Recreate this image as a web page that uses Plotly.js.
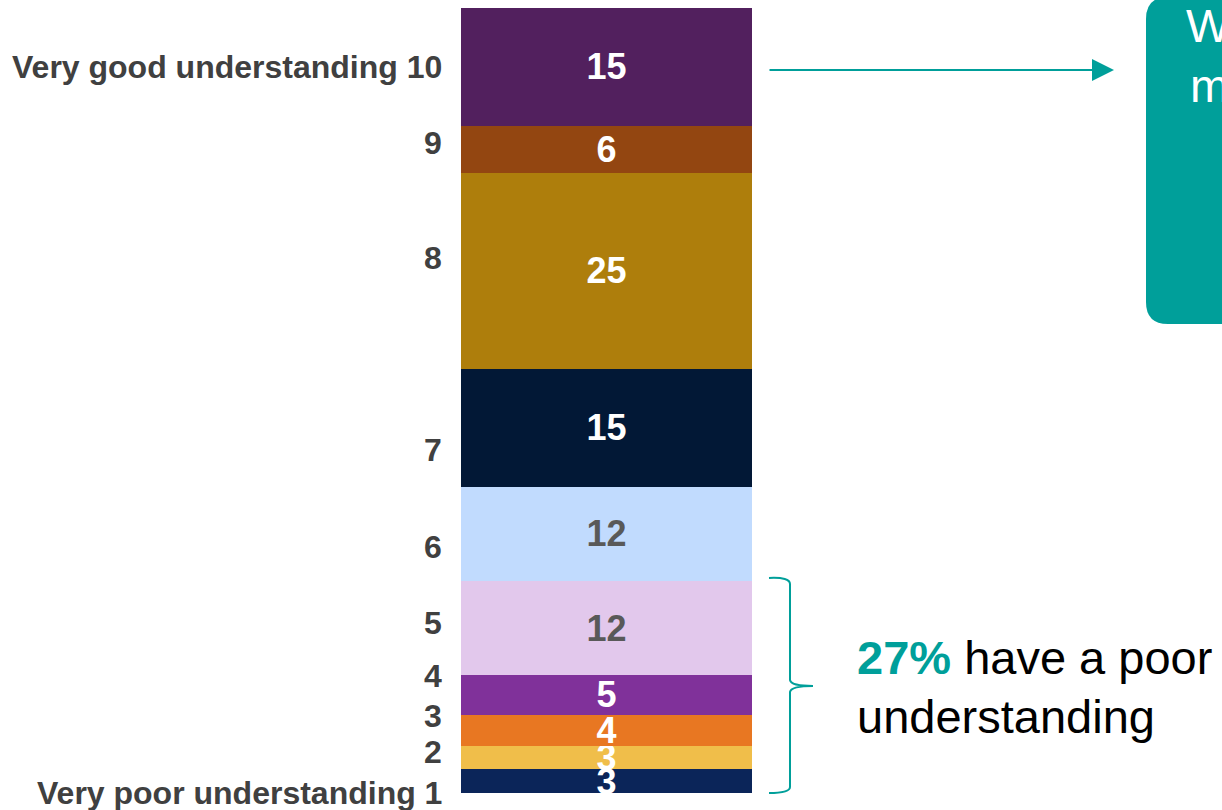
<!DOCTYPE html>
<html>
<head>
<meta charset="utf-8">
<script src="https://cdn.plot.ly/plotly-3.0.1.min.js"></script>
<style>html,body{margin:0;padding:0;background:#fff;}#chart{width:1222px;height:810px;}</style>
</head>
<body>
<div id="chart"></div>
<script>
// ---- data ----
const levels = ["1", "2", "3", "4", "5", "6", "7", "8", "9", "10"];
const levelLabels = ["Very poor understanding 1", "2", "3", "4", "5", "6", "7", "8", "9", "Very good understanding 10"];
const shares = [3, 3, 4, 5, 12, 12, 15, 25, 6, 15];
const category = ["Understanding"];

// ---- styles ----
const colors = ["#0B2559", "#F0BE4A", "#E87722", "#80319A", "#E2C8EC", "#C1DBFE", "#021836", "#AE7E0C", "#934611", "#52205E"];
const textColors = ["#fff", "#fff", "#fff", "#fff", "#595959", "#595959", "#fff", "#fff", "#fff", "#fff"];
const labelY = [0.0, 5.2, 9.8, 14.9, 21.7, 31.3, 43.7, 68.2, 82.8, 92.5]; // label positions (y units)
const FONT = "Liberation Sans, Arial, sans-serif";
const TEAL = "#009F9A";

const W = 1222, H = 810;
const M = {l: 461, r: 470, t: 8, b: 17};
const PW = W - M.l - M.r, PH = H - M.t - M.b;
const PX = p => (p - M.l) / PW;
const PY = p => (H - M.b - p) / PH;

const traces = levels.map((lv, i) => ({
  type: "bar",
  x: category,
  y: [shares[i]],
  name: lv,
  text: [String(shares[i])],
  textposition: "inside",
  insidetextanchor: "middle",
  textangle: 0,
  constraintext: "none",
  textfont: {family: FONT, size: 36, color: textColors[i], weight: "bold"},
  marker: {color: colors[i], line: {width: 0}},
  hoverinfo: "skip"
}));

const annotations = [];
levelLabels.forEach((t, i) => {
  annotations.push({
    xref: "paper", yref: "y", x: PX(444), y: labelY[i],
    xanchor: "right", yanchor: "middle", showarrow: false,
    text: "<b>" + t + "</b>",
    font: {family: FONT, size: 32, color: "#404040"}
  });
});
// arrow
annotations.push({
  xref: "paper", yref: "paper", x: PX(1114), y: PY(70),
  ax: -346, ay: 0, text: "", showarrow: true,
  arrowhead: 2, arrowsize: 2.2, arrowwidth: 2, arrowcolor: TEAL
});
// right text
annotations.push({
  xref: "paper", yref: "paper", x: PX(855), y: PY(657),
  xanchor: "left", yanchor: "middle", showarrow: false,
  text: "<b><span style='color:" + TEAL + "'>27%</span></b> have a poor",
  font: {family: FONT, size: 47, color: "#000"}
});
annotations.push({
  xref: "paper", yref: "paper", x: PX(855), y: PY(716),
  xanchor: "left", yanchor: "middle", showarrow: false,
  text: "understanding",
  font: {family: FONT, size: 47, color: "#000"}
});
// box text (clipped at page edge, as in the reference)
annotations.push({
  xref: "paper", yref: "paper", x: PX(1184), y: PY(26),
  xanchor: "left", yanchor: "middle", showarrow: false,
  text: "W", font: {family: FONT, size: 47, color: "#fff"}
});
annotations.push({
  xref: "paper", yref: "paper", x: PX(1188), y: PY(86),
  xanchor: "left", yanchor: "middle", showarrow: false,
  text: "m", font: {family: FONT, size: 47, color: "#fff"}
});

function pathFrom(cmds) {
  return cmds.map(c => {
    const op = c[0];
    const pts = [];
    for (let k = 1; k < c.length; k += 2) pts.push(PX(c[k]).toFixed(5) + "," + PY(c[k + 1]).toFixed(5));
    return op + " " + pts.join(" ");
  }).join(" ");
}

const bracePath = pathFrom([
  ["M", 769, 578], ["Q", 790, 577, 790, 584], ["L", 790, 680], ["Q", 791, 686, 813, 686],
  ["M", 813, 686], ["Q", 791, 686, 790, 692], ["L", 790, 787], ["Q", 790, 793, 769, 793]
]);
const boxPath = pathFrom([
  ["M", 1168, -3], ["Q", 1146, -3, 1146, 19], ["L", 1146, 302], ["Q", 1146, 324, 1168, 324],
  ["L", 1240, 324], ["L", 1240, -3]
]) + " Z";

const layout = {
  width: W, height: H,
  margin: M,
  paper_bgcolor: "#fff", plot_bgcolor: "#fff",
  barmode: "stack", bargap: 0,
  showlegend: false,
  xaxis: {visible: false, fixedrange: true},
  yaxis: {visible: false, range: [0, 100], fixedrange: true},
  annotations: annotations,
  shapes: [
    {type: "path", xref: "paper", yref: "paper", path: boxPath, fillcolor: TEAL, line: {width: 0}},
    {type: "path", xref: "paper", yref: "paper", path: bracePath, line: {color: TEAL, width: 2}}
  ]
};

Plotly.newPlot("chart", traces, layout, {displayModeBar: false, staticPlot: true});
</script>
</body>
</html>
